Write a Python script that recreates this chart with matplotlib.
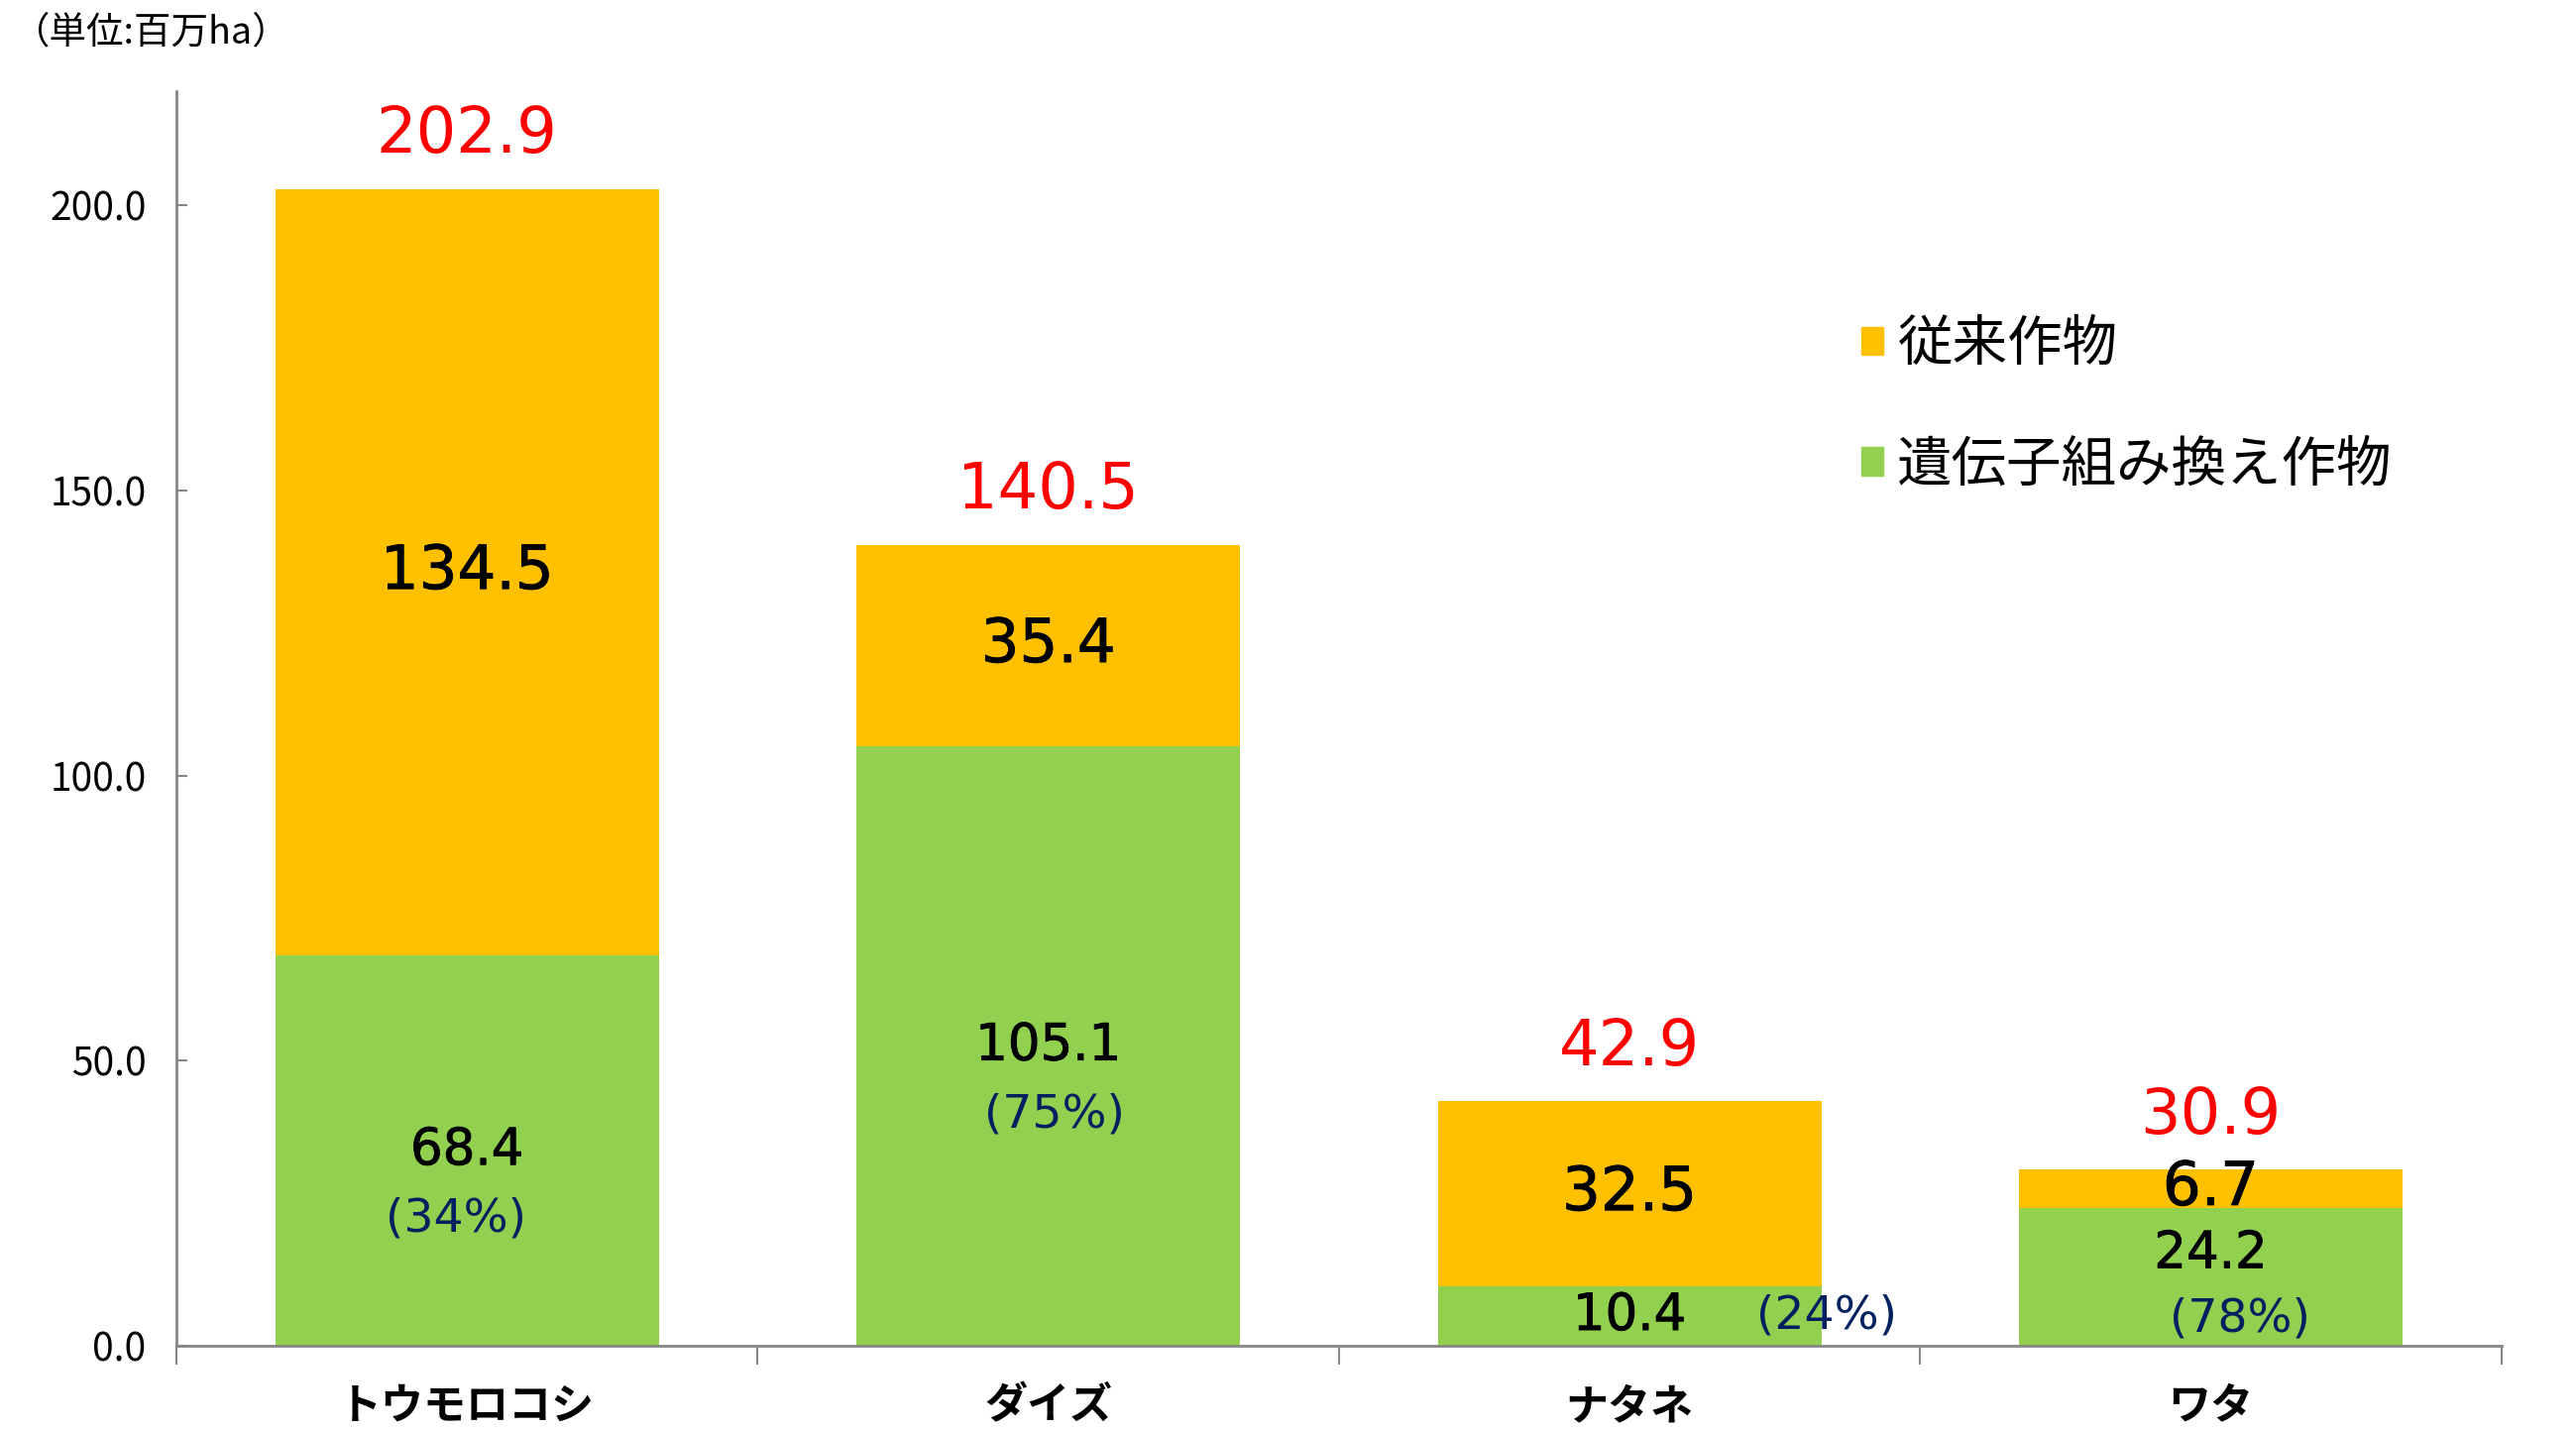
import numpy as np
import matplotlib.pyplot as plt
import matplotlib.patheffects as pe
from matplotlib.patches import Patch

plt.rcParams['font.family'] = ['Noto Sans CJK JP', 'DejaVu Sans']

# Data (million ha)
crops = ['トウモロコシ', 'ダイズ', 'ナタネ', 'ワタ']
gm_area = [68.4, 105.1, 10.4, 24.2]
conv_area = [134.5, 35.4, 32.5, 6.7]
totals = [202.9, 140.5, 42.9, 30.9]
gm_share = [34, 75, 24, 78]
legend_labels = ['従来作物', '遺伝子組み換え作物']

# label nudges (layout only)
gm_dy = [0, 0, 0, 4]
pct_dx = [-0.02, 0.01, 0.34, 0.05]
pct_dy = [-12, -12, 0, -11.5]

c_conv = '#FFC000'
c_gm = '#92D050'
num_font = 'DejaVu Sans'
thick = [pe.withStroke(linewidth=0.6, foreground='black')]

fig = plt.figure(figsize=(25.99, 14.44), dpi=100)
ax = fig.add_axes([0.0685, 0.0596, 0.9025, 0.8764])

x = np.arange(len(crops))
ax.bar(x, gm_area, width=0.66, color=c_gm)
ax.bar(x, conv_area, width=0.66, bottom=gm_area, color=c_conv)

for i in range(len(crops)):
    g = gm_area[i]
    c = conv_area[i]
    ax.text(x[i], g + c / 2, f'{c:.1f}', ha='center', va='center', fontsize=44,
            family=num_font, color='black', path_effects=thick)
    ax.text(x[i], g / 2 + gm_dy[i], f'{g:.1f}', ha='center', va='center', fontsize=37,
            family=num_font, color='black', path_effects=thick)
    ax.text(x[i] + pct_dx[i], g / 2 + gm_dy[i] + pct_dy[i], f'({gm_share[i]}%)',
            ha='center', va='center', fontsize=34, family=num_font, color='#002060')
    ax.text(x[i], totals[i] + 9.5, f'{totals[i]:.1f}', ha='center', va='center', fontsize=46,
            family=num_font, color='#FF0000')

ax.set_xlim(-0.5, len(crops) - 0.5)
ax.set_ylim(0, 220)
ax.set_yticks(np.arange(0, 201, 50))
ax.set_yticklabels([f'{v:.1f}' for v in np.arange(0, 201, 50)], fontsize=28)
ax.tick_params(axis='y', direction='in', length=8, width=1.5, color='#868686', pad=22)

ax.set_xticks(np.arange(len(crops) + 1) - 0.5)
ax.set_xticklabels([])
ax.tick_params(axis='x', which='major', direction='out', length=14, width=1.5, color='#868686')
ax.set_xticks(x, minor=True)
ax.set_xticklabels(crops, minor=True, fontsize=31, fontweight='bold')
ax.tick_params(axis='x', which='minor', length=0, pad=28)

for s in ['top', 'right']:
    ax.spines[s].set_visible(False)
for s in ['left', 'bottom']:
    ax.spines[s].set_color('#868686')
    ax.spines[s].set_linewidth(2)

handles = [Patch(color=c_conv), Patch(color=c_gm)]
fig.legend(handles, legend_labels, loc='upper left', bbox_to_anchor=(0.712, 0.798),
           fontsize=40, frameon=False, handlelength=0.4, handleheight=0.4,
           handletextpad=0.25, labelspacing=1.15, borderpad=0)

fig.text(0.005, 0.977, '（単位:百万ha）', fontsize=27, ha='left', va='center')

fig.savefig('out.png', dpi=100)
